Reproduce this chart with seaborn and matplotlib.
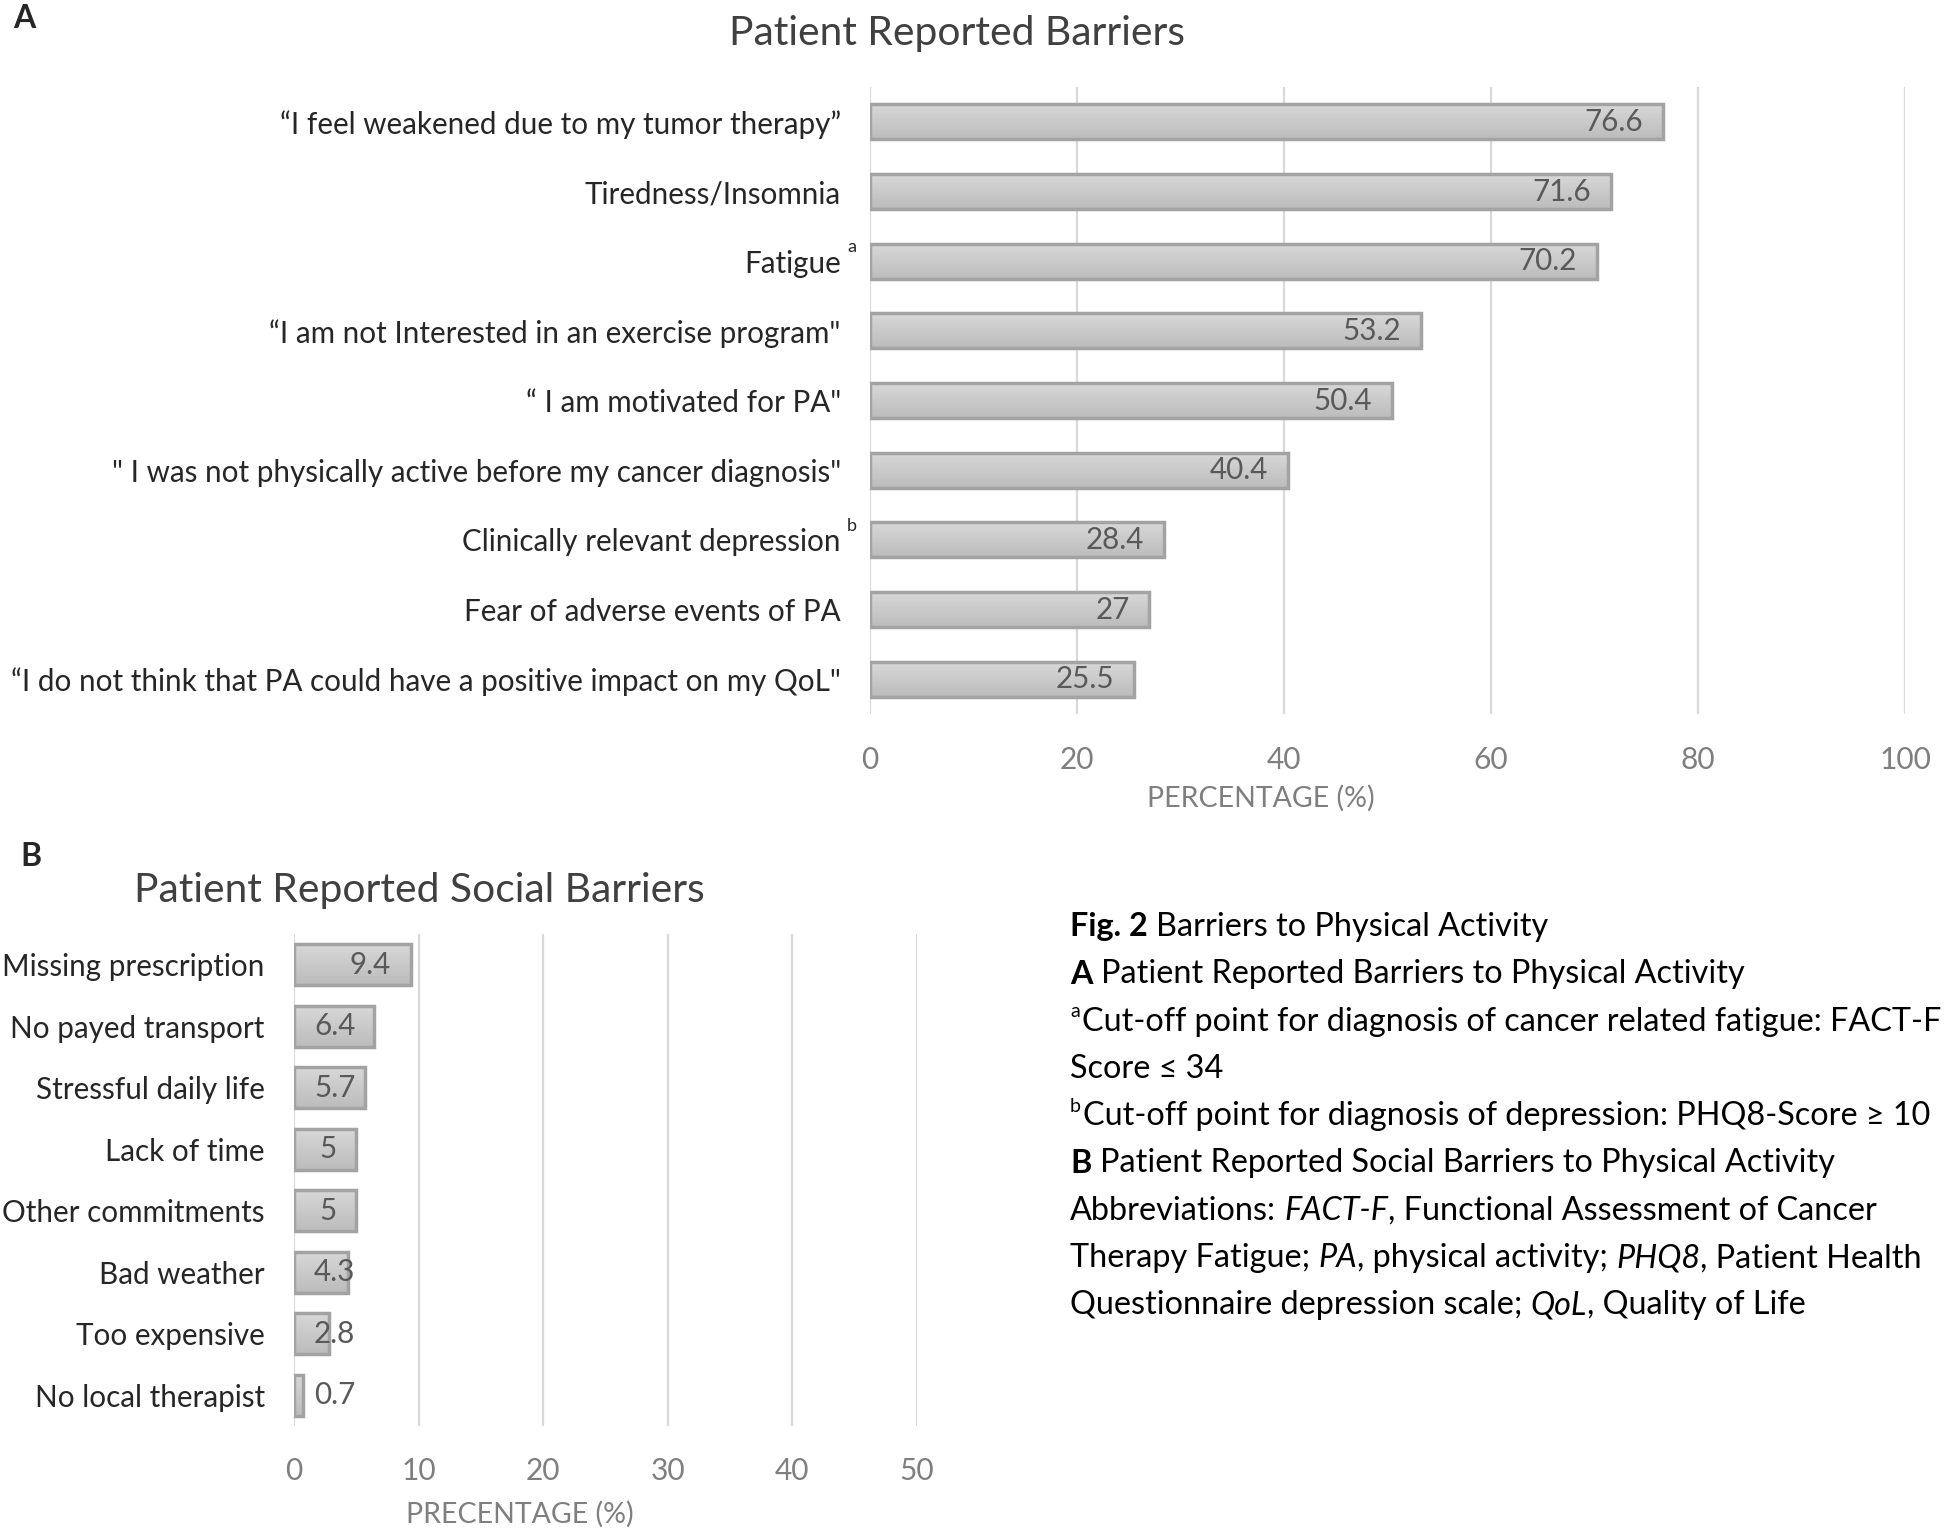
import matplotlib
matplotlib.use("Agg")
import matplotlib.pyplot as plt
from matplotlib.colors import LinearSegmentedColormap
import numpy as np
import seaborn as sns
import pandas as pd

# panel A data
barriers = [
    "\u201cI feel weakened due to my tumor therapy\u201d",
    "Tiredness/Insomnia",
    "Fatigue",
    "\u201cI am not Interested in an exercise program\"",
    "\u201c I am motivated for PA\"",
    "\" I was not physically active before my cancer diagnosis\"",
    "Clinically relevant depression",
    "Fear of adverse events of PA",
    "\u201cI do not think that PA could have a positive impact on my QoL\"",
]
barrier_pct = [76.6, 71.6, 70.2, 53.2, 50.4, 40.4, 28.4, 27, 25.5]
barrier_notes = {"Fatigue": "a", "Clinically relevant depression": "b"}

# panel B data
social = [
    "Missing prescription",
    "No payed transport",
    "Stressful daily life",
    "Lack of time",
    "Other commitments",
    "Bad weather",
    "Too expensive",
    "No local therapist",
]
social_pct = [9.4, 6.4, 5.7, 5, 5, 4.3, 2.8, 0.7]

caption = [
    [("Fig. 2", "bold"), (" Barriers to Physical Activity", "normal")],
    [("A", "bold"), (" Patient Reported Barriers to Physical Activity", "normal")],
    [("a", "sup"), ("Cut-off point for diagnosis of cancer related fatigue: FACT-F", "normal")],
    [("Score \u2264 34", "normal")],
    [("b", "sup"), ("Cut-off point for diagnosis of depression: PHQ8-Score \u2265 10", "normal")],
    [("B", "bold"), (" Patient Reported Social Barriers to Physical Activity", "normal")],
    [("Abbreviations: ", "normal"), ("FACT-F", "italic"), (", Functional Assessment of Cancer", "normal")],
    [("Therapy Fatigue; ", "normal"), ("PA", "italic"), (", physical activity; ", "normal"),
     ("PHQ8", "italic"), (", Patient Health", "normal")],
    [("Questionnaire depression scale; ", "normal"), ("QoL", "italic"), (", Quality of Life", "normal")],
]

sns.set_style("white")
plt.rcParams["font.family"] = ["Lato", "DejaVu Sans"]

W, H = 1946, 1528
FS = 21.3       # category labels / value labels
TFS = 21.5      # numeric ticks
CFS = 23.3      # caption
BAR = "#cacaca"
EDGE = "#a3a3a3"
GRID = "#d9d9d9"
TICK = "#7f7f7f"
bar_cmap = LinearSegmentedColormap.from_list("bar", ["#d8d8d8", "#bcbcbc"])

fig = plt.figure(figsize=(W / 100, H / 100), dpi=100)
axA = fig.add_axes([870 / W, 1 - 714 / H, 1035 / W, 627 / H])
axB = fig.add_axes([294 / W, 1 - 1426 / H, 623 / W, 492 / H])
renderer = fig.canvas.get_renderer()

dfA = pd.DataFrame({"barrier": barriers, "pct": barrier_pct})
dfB = pd.DataFrame({"barrier": social, "pct": social_pct})

sns.barplot(data=dfA, x="pct", y="barrier", orient="h", color=BAR, saturation=1,
            width=0.5, edgecolor=EDGE, linewidth=2.5, ax=axA, zorder=4)
sns.barplot(data=dfB, x="pct", y="barrier", orient="h", color=BAR, saturation=1,
            width=0.67, edgecolor=EDGE, linewidth=2.5, ax=axB, zorder=4)


def shade_bars(ax):
    # vertical light-to-dark gradient inside each bar, like the original
    ylim = ax.get_ylim()
    grad = np.linspace(0, 1, 50).reshape(-1, 1)
    for p in ax.patches:
        x0, y0, w, h = p.get_x(), p.get_y(), p.get_width(), p.get_height()
        im = ax.imshow(grad, extent=(x0, x0 + w, y0 + h, y0), origin="upper",
                       cmap=bar_cmap, aspect="auto", zorder=3, interpolation="bilinear")
        im.set_clip_path(p)
        p.set_facecolor("none")
    ax.set_ylim(ylim)


def style_axis(ax, xmax, step, xlabel, tickpad, label_xy):
    ax.set_xlim(0, xmax)
    ax.set_xticks(range(0, xmax + 1, step))
    ax.grid(axis="x", color=GRID, linewidth=1.6, zorder=0)
    ax.grid(axis="y", visible=False)
    for s in ax.spines.values():
        s.set_visible(False)
    ax.tick_params(axis="y", length=0, pad=21, labelsize=FS, labelcolor="#262626")
    ax.tick_params(axis="x", length=0, pad=tickpad, labelsize=TFS, labelcolor=TICK)
    ax.set_ylabel("")
    ax.set_xlabel(xlabel, fontsize=20.5, color=TICK, va="center")
    ax.xaxis.set_label_coords(*label_xy)


shade_bars(axA)
shade_bars(axB)
style_axis(axA, 100, 20, "PERCENTAGE (%)", 23, (0.378, -84 / 627))
style_axis(axB, 50, 10, "PRECENTAGE (%)", 22, (0.3625, -88 / 492))


def label_bars(ax, values, pad_px=20):
    x0 = ax.transData.transform((0, 0))[0]
    for patch, v in zip(ax.patches, values):
        y = patch.get_y() + patch.get_height() / 2
        t = ax.annotate(f"{v:g}", xy=(v, y), xytext=(-pad_px * 0.72, 0),
                        textcoords="offset points", ha="right", va="center",
                        fontsize=FS, color="#595959", zorder=5)
        bb = t.get_window_extent(renderer)
        if bb.x0 < x0 + pad_px:
            t.remove()
            ax.annotate(f"{v:g}", xy=(0, y), xytext=(pad_px * 0.72, 0),
                        textcoords="offset points", ha="left", va="center",
                        fontsize=FS, color="#595959", zorder=5)


label_bars(axA, barrier_pct)
label_bars(axB, social_pct)

# footnote markers next to category labels
for i, name in enumerate(barriers):
    if name in barrier_notes:
        axA.annotate(barrier_notes[name], xy=(0, i), xytext=(-13, 10),
                     textcoords="offset points", ha="center", va="center",
                     fontsize=13, color="#262626")

fig.text(957 / W, 1 - 33 / H, "Patient Reported Barriers", ha="center", va="center",
         fontsize=29.3, color="#404040")
fig.text(419 / W, 1 - 890 / H, "Patient Reported Social Barriers", ha="center", va="center",
         fontsize=29.3, color="#404040")
fig.text(13 / W, 1 - 18 / H, "A", ha="left", va="center", fontsize=23, fontweight="bold")
fig.text(20 / W, 1 - 857 / H, "B", ha="left", va="center", fontsize=23, fontweight="bold")


# caption with mixed styles
def seg_width(s, **kw):
    t = fig.text(0, 0, s, fontsize=CFS, **kw)
    w = t.get_window_extent(renderer).width
    t.remove()
    return w


space_w = seg_width("a a") - seg_width("aa")
x_start, y_start, line_h = 1070, 927, 47.3
for li, line in enumerate(caption):
    x = x_start
    ypx = y_start + li * line_h
    for text, style in line:
        kw = {"fontsize": CFS, "color": "black"}
        dy = 0
        if style == "bold":
            kw["fontweight"] = "bold"
        elif style == "italic":
            kw["fontstyle"] = "italic"
        elif style == "sup":
            kw["fontsize"] = 14
            dy = -10
        lead = len(text) - len(text.lstrip(" "))
        trail = len(text) - len(text.rstrip(" "))
        x += lead * space_w
        core = text.strip(" ")
        t = fig.text(x / W, 1 - (ypx + dy) / H, core, ha="left", va="center", **kw)
        x += t.get_window_extent(renderer).width + trail * space_w
        if style == "sup":
            x += 2

fig.savefig("out.png", dpi=100)
